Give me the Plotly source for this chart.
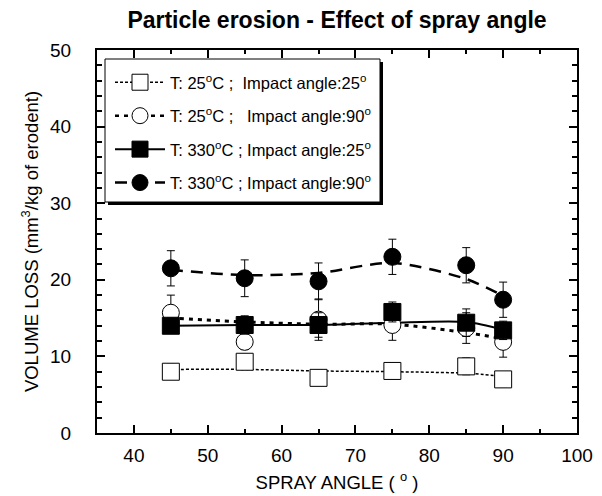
import plotly.graph_objects as go

# ---- data ----
spray_angle = [45, 55, 65, 75, 85, 90]

s1_name = "T: 25<sup>o</sup>C ;  Impact angle:25<sup>o</sup>"
s1_vals = [8.0, 9.3, 7.2, 8.1, 8.7, 7.0]
s1_err = [1.0, 1.0, 1.0, 1.0, 1.1, 1.0]
s1_fit = [8.3, 8.3, 8.1, 8.0, 7.8, 7.4]

s2_name = "T: 25<sup>o</sup>C ;\u00a0\u00a0 Impact angle:90<sup>o</sup>"
s2_vals = [15.7, 11.9, 14.8, 14.1, 13.7, 11.9]
s2_err = [2.3, 1.0, 2.7, 2.0, 2.0, 2.0]
s2_fit = [15.0, 14.5, 14.2, 14.2, 13.1, 12.3]

s3_name = "T: 330<sup>o</sup>C ; Impact angle:25<sup>o</sup>"
s3_vals = [14.0, 14.1, 14.1, 15.8, 14.4, 13.4]
s3_err = [1.0, 1.2, 1.6, 1.3, 1.8, 1.2]
s3_fit = [14.0, 14.1, 14.1, 14.4, 14.5, 13.5]

s4_name = "T: 330<sup>o</sup>C ; Impact angle:90<sup>o</sup>"
s4_vals = [21.5, 20.2, 19.8, 23.0, 21.9, 17.4]
s4_err = [2.3, 2.4, 2.4, 2.3, 2.3, 2.3]
s4_fit = [21.3, 20.6, 20.9, 22.2, 20.1, 17.9]

x_ticks = [40, 50, 60, 70, 80, 90, 100]
y_ticks = [0, 10, 20, 30, 40, 50]

FONT = "Liberation Sans, Arial, Helvetica, sans-serif"
W, H = 602, 496
L, R, T, B = 97, 25, 50, 63
PW, PH = W - L - R, H - T - B


def px_x(p):
    return (p - L) / PW


def px_y(p):
    return (H - B - p) / PH


series = [
    dict(name=s1_name, y=s1_vals, e=s1_err, fit=s1_fit, symbol="square",
         fill="white", width=1.5, dash="3px,2px", size=17),
    dict(name=s2_name, y=s2_vals, e=s2_err, fit=s2_fit, symbol="circle",
         fill="white", width=3, dash="4px,5px", size=17),
    dict(name=s3_name, y=s3_vals, e=s3_err, fit=s3_fit, symbol="square",
         fill="black", width=2, dash="solid", size=17),
    dict(name=s4_name, y=s4_vals, e=s4_err, fit=s4_fit, symbol="circle",
         fill="black", width=2.5, dash="12px,8px", size=17),
]

fig = go.Figure()

# fitted/smoothed lines (drawn beneath markers)
for s in series:
    fig.add_trace(go.Scatter(
        x=spray_angle, y=s["fit"], mode="lines",
        line=dict(color="black", width=s["width"], dash=s["dash"], shape="spline", smoothing=0.8),
        showlegend=False, hoverinfo="skip"))

# data markers with error bars
for s in series:
    fig.add_trace(go.Scatter(
        x=spray_angle, y=s["y"], mode="markers",
        marker=dict(symbol=s["symbol"], size=s["size"], color=s["fill"],
                    line=dict(color="black", width=1)),
        error_y=dict(type="data", array=s["e"], visible=True, color="black",
                     thickness=1, width=4),
        showlegend=False))

# legend entries
for i, s in enumerate(series):
    fig.add_trace(go.Scatter(
        x=[None], y=[None], mode="lines+markers", name=s["name"],
        legendgroup=f"g{i}",
        line=dict(color="black", width=min(s["width"], 2.5), dash=s["dash"]),
        marker=dict(symbol=s["symbol"], size=16, color=s["fill"], line=dict(color="black", width=1))))

# legend box with shadow
lx0, ly0, lx1, ly1 = 105, 59, 380, 202
shapes = [
    dict(type="rect", xref="paper", yref="paper",
         x0=px_x(lx0 + 3), x1=px_x(lx1 + 3), y0=px_y(ly1 + 3), y1=px_y(ly0 + 3),
         fillcolor="black", line=dict(width=0), layer="above"),
    dict(type="rect", xref="paper", yref="paper",
         x0=px_x(lx0), x1=px_x(lx1), y0=px_y(ly1), y1=px_y(ly0),
         fillcolor="white", line=dict(color="black", width=1), layer="above"),
]

axis_common = dict(
    showline=True, linecolor="black", linewidth=2, mirror="ticks",
    ticks="inside", ticklen=8, tickwidth=2, tickcolor="black",
    showgrid=False, zeroline=False, automargin=False,
    tickfont=dict(family=FONT, size=19, color="black"),
)

fig.update_layout(
    width=W, height=H,
    margin=dict(l=L, r=R, t=T, b=B, pad=0, autoexpand=False),
    paper_bgcolor="white", plot_bgcolor="white",
    title=dict(text="<b>Particle erosion - Effect of spray angle</b>",
               x=337 / W, xanchor="center",
               y=1 - 20 / H, yanchor="middle",
               font=dict(family=FONT, size=23, color="black")),
    xaxis=dict(range=[35, 100], tickmode="array", tickvals=x_ticks,
               ticktext=[str(v) for v in x_ticks],
               minor=dict(dtick=5, tick0=0, ticks="inside", ticklen=4, tickwidth=2, tickcolor="black"),
               ticklabelstandoff=4,
               title=dict(text="SPRAY ANGLE ( <sup>o</sup> )", standoff=11,
                          font=dict(family=FONT, size=18.5, color="black")),
               **axis_common),
    yaxis=dict(range=[0, 50], tickmode="array", tickvals=y_ticks,
               ticktext=[str(v) for v in y_ticks],
               minor=dict(dtick=2, tick0=0, ticks="inside", ticklen=5, tickwidth=2, tickcolor="black"),
               ticklabelstandoff=20,
               title=dict(text="VOLUME LOSS (mm<sup>3</sup>/kg of erodent)", standoff=7,
                          font=dict(family=FONT, size=18.5, color="black")),
               **axis_common),
    legend=dict(x=px_x(110), y=px_y(65), xanchor="left", yanchor="top",
                bgcolor="rgba(0,0,0,0)", borderwidth=0,
                traceorder="grouped", tracegroupgap=9, itemwidth=50,
                font=dict(family=FONT, size=16.5, color="black")),
    shapes=shapes,
)

fig.write_html("out.html")
